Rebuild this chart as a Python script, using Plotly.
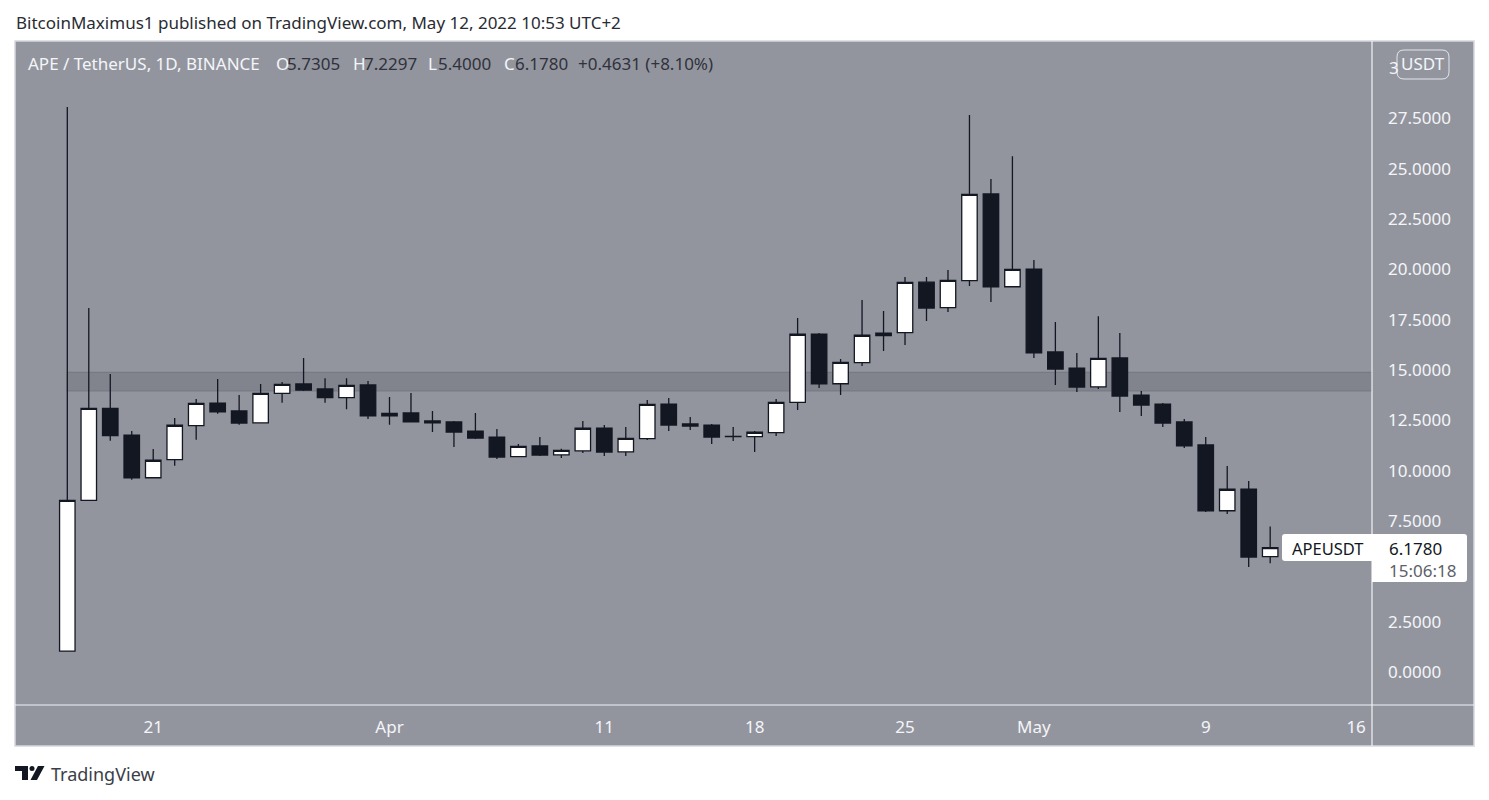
import pandas as pd
import plotly.graph_objects as go

# daily candles, APE / TetherUS
start_date = "2022-03-17"
opens = [1.04, 8.53, 13.10, 11.77, 9.65, 10.55, 12.24, 13.36, 12.97, 12.38, 13.84, 14.31, 14.06, 13.63, 14.26,
         12.73, 12.87, 12.47, 12.42, 11.97, 11.67, 10.70, 11.23, 10.79, 10.99, 12.12, 10.94, 11.59, 13.31, 12.32,
         12.27, 11.71, 11.69, 11.89, 13.40, 16.79, 14.32, 15.37, 16.71, 16.86, 19.37, 18.10, 19.44, 23.75, 19.14,
         20.02, 15.90, 15.10, 14.17, 15.60, 13.76, 13.31, 12.42, 11.28, 8.01, 9.09, 5.7305]
highs = [28.07, 18.08, 14.80, 11.97, 11.08, 12.62, 13.56, 14.56, 13.76, 14.31, 14.41, 15.60, 14.60, 14.60, 14.46,
         13.66, 13.86, 12.97, 12.47, 12.87, 12.07, 11.33, 11.67, 11.09, 12.47, 12.27, 12.17, 13.51, 13.61, 12.67,
         12.32, 12.17, 11.97, 13.56, 17.59, 16.84, 15.55, 18.48, 17.93, 19.62, 19.62, 19.97, 27.67, 24.49, 25.63,
         20.47, 17.39, 15.85, 17.68, 16.84, 13.96, 13.36, 12.57, 11.67, 10.23, 9.49, 7.2297]
lows = [1.04, 8.53, 11.49, 9.55, 9.65, 10.25, 11.54, 12.83, 12.29, 12.38, 13.38, 13.96, 13.38, 13.06, 12.57,
        12.29, 12.43, 11.92, 11.18, 11.57, 10.58, 10.70, 10.73, 10.63, 10.88, 10.73, 10.73, 11.53, 11.97, 12.02,
        11.33, 11.48, 10.93, 11.72, 13.02, 14.11, 13.76, 15.20, 15.95, 16.24, 17.44, 17.88, 19.18, 18.38, 19.14,
        15.60, 14.26, 13.91, 14.06, 12.92, 12.72, 12.17, 11.13, 7.95, 7.85, 5.22, 5.40]
closes = [8.53, 13.10, 11.74, 9.65, 10.52, 12.26, 13.35, 12.93, 12.37, 13.84, 14.29, 14.01, 13.63, 14.24, 12.72,
          12.85, 12.43, 12.38, 11.92, 11.62, 10.68, 11.21, 10.78, 11.01, 12.11, 10.93, 11.61, 13.30, 12.27, 12.22,
          11.67, 11.69, 11.91, 13.40, 16.78, 14.31, 15.38, 16.73, 16.83, 19.36, 18.08, 19.46, 23.73, 19.13, 20.00,
          15.85, 15.05, 14.16, 15.58, 13.71, 13.26, 12.37, 11.23, 8.00, 9.08, 5.71, 6.178]
zone_low = 13.97
zone_high = 14.89
# 5.0000 sits behind the price label in the reference, 30.0000 behind the badge
price_ticks = [0, 2.5, 7.5, 10, 12.5, 15, 17.5, 20, 22.5, 25, 27.5]
date_ticks = ["2022-03-21", "2022-04-01", "2022-04-11", "2022-04-18", "2022-04-25", "2022-05-01", "2022-05-09", "2022-05-16"]
date_labels = ["21", "Apr", "11", "18", "25", "May", "9", "16"]

dates = pd.date_range(start_date, periods=len(opens), freq="D")

FONT = "Noto Sans"
BG = "#93959e"
DARK = "#131722"
WHITE = "#f4f5f9"
VALUE = "#2f323c"

# pixel layout of the page
W, H = 1489, 800
L, R, T, B = 15, 1372, 41, 705


def px(x):
    return (x - L) / (R - L)


def py(y):
    return (B - y) / (B - T)


def rect(x0, y0, x1, y1, **kw):
    return dict(type="rect", xref="paper", yref="paper", x0=px(x0), x1=px(x1), y0=py(y0), y1=py(y1), **kw)


def path(points, **kw):
    d = "M" + " L".join(f"{px(a):.5f},{py(b):.5f}" for a, b in points) + " Z"
    return dict(type="path", xref="paper", yref="paper", path=d, **kw)


def rounded(x0, y0, x1, y1, r_left, r_right, **kw):
    # box with rounded corners, given in page pixels
    def p(a, b):
        return f"{px(a):.5f},{py(b):.5f}"
    d = (f"M{p(x0 + r_left, y0)} L{p(x1 - r_right, y0)} Q{p(x1, y0)} {p(x1, y0 + r_right)} "
         f"L{p(x1, y1 - r_right)} Q{p(x1, y1)} {p(x1 - r_right, y1)} L{p(x0 + r_left, y1)} "
         f"Q{p(x0, y1)} {p(x0, y1 - r_left)} L{p(x0, y0 + r_left)} Q{p(x0, y0)} {p(x0 + r_left, y0)} Z")
    return dict(type="path", xref="paper", yref="paper", path=d, **kw)


def text(x, y, s, color=WHITE, size=17, anchor="left"):
    fig.add_annotation(xref="paper", yref="paper", x=px(x), y=py(y), text=s, showarrow=False,
                       xanchor=anchor, yanchor="middle", align="left", borderpad=0,
                       font=dict(family=FONT, size=size, color=color))


fig = go.Figure()

fig.add_trace(go.Candlestick(
    x=dates, open=opens, high=highs, low=lows, close=closes,
    whiskerwidth=0,
    increasing=dict(fillcolor="#ffffff", line=dict(color=DARK, width=1.3)),
    decreasing=dict(fillcolor=DARK, line=dict(color=DARK, width=1.3)),
    showlegend=False,
))

x_start = dates[0] + pd.Timedelta(days=-2.435)
x_end = dates[0] + pd.Timedelta(days=60.74)

fig.update_layout(
    width=W, height=H, autosize=False,
    margin=dict(l=L, r=W - R, t=T, b=H - B),
    paper_bgcolor="#ffffff", plot_bgcolor=BG,
    showlegend=False,
    boxgap=0.28, boxgroupgap=0,
    xaxis=dict(
        type="date", range=[x_start, x_end], rangeslider=dict(visible=False),
        tickmode="array", tickvals=date_ticks, ticktext=date_labels,
        showgrid=False, zeroline=False, showline=False, ticks="", ticklabelstandoff=10,
        tickangle=0, tickfont=dict(family=FONT, size=17, color=WHITE),
    ),
    yaxis=dict(
        side="right", range=[-1.64, 31.35],
        tickmode="array", tickvals=price_ticks, tickformat=".4f",
        showgrid=False, zeroline=False, showline=False, ticks="", ticklabelstandoff=15,
        tickfont=dict(family=FONT, size=17, color=WHITE),
    ),
)

shapes = [
    # chart frame and axis separators
    rect(15, 41, 1474, 746, fillcolor=BG, line=dict(color="#d6d8e0", width=1.5), layer="below"),
    # support zone
    dict(type="rect", xref="x", yref="y", x0=dates[0], x1=x_end, y0=zone_low, y1=zone_high,
         fillcolor="#82848d", line=dict(color="#787a83", width=1.2), layer="below"),
    dict(type="line", xref="paper", yref="paper", x0=px(1372), x1=px(1372), y0=py(41), y1=py(746),
         line=dict(color="#f2f3f7", width=1.2)),
    dict(type="line", xref="paper", yref="paper", x0=px(15), x1=px(1474), y0=py(705), y1=py(705),
         line=dict(color="#f2f3f7", width=1.2)),
    # price label
    rounded(1282, 534, 1372, 561, 3, 0, fillcolor="#ffffff", line=dict(width=0)),
    rounded(1372, 534, 1467, 582, 0, 3, fillcolor="#ffffff", line=dict(width=0)),
    # currency badge
    rounded(1397, 50, 1449, 79, 7, 7, fillcolor=BG, line=dict(color="#e4e6ec", width=1)),
    # logo
    path([(15, 766), (28, 766), (28, 780), (22, 780), (22, 771), (15, 771)], fillcolor="#131722", line=dict(width=0)),
    path([(38, 766), (44.5, 766), (37, 780), (30.5, 780)], fillcolor="#131722", line=dict(width=0)),
    dict(type="circle", xref="paper", yref="paper", x0=px(29.5), x1=px(34.5), y0=py(766), y1=py(771),
         fillcolor="#131722", line=dict(width=0)),
]
fig.update_layout(shapes=shapes)

text(15, 22, "BitcoinMaximus1 published on TradingView.com, May 12, 2022 10:53 UTC+2", color="#2a2c33")

header = [
    (27, "APE / TetherUS, 1D, BINANCE", WHITE),
    (275, "O", WHITE), (286, "5.7305", VALUE),
    (352, "H", WHITE), (363, "7.2297", VALUE),
    (427, "L", WHITE), (437, "5.4000", VALUE),
    (503, "C", WHITE), (514, "6.1780", VALUE),
    (577, "+0.4631 (+8.10%)", VALUE),
]
for hx, label, color in header:
    text(hx, 64, label, color=color)

text(1388, 68, "3", color=WHITE)
text(1423, 64, "USDT", color=WHITE, size=17, anchor="center")
text(1291, 548, "APEUSDT", color=DARK, size=16.5)
text(1388, 548, "6.1780", color=DARK)
text(1388, 570, "15:06:18", color="#5d606b", size=17)
text(50, 774, "TradingView", color="#3b3e47", size=18)

# the page's default 8px body margin would shift everything
fig.write_html("out.html", config=dict(displayModeBar=False), post_script="document.body.style.margin='0';")
